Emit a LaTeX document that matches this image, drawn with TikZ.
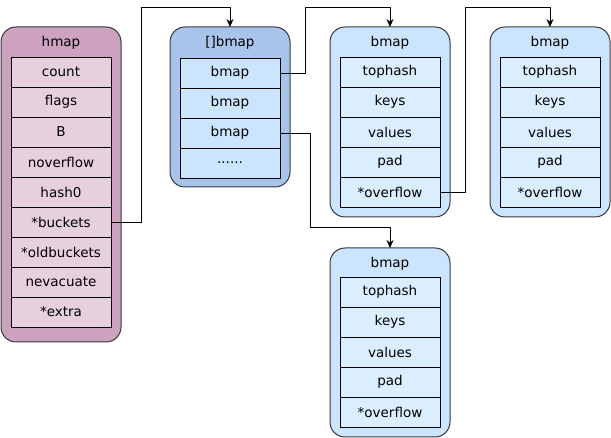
\documentclass[tikz,border=0pt]{standalone}
\usepackage{fontspec}
\newfontfamily\mapfont{DejaVu Sans}
\usetikzlibrary{positioning,arrows.meta}

\definecolor{hmapout}{HTML}{CDA2BE}
\definecolor{hmapin}{HTML}{E6D0DE}
\definecolor{arrout}{HTML}{A9C4EB}
\definecolor{bmapout}{HTML}{CCE5FF}
\definecolor{bmapin}{HTML}{DAEEFF}
\definecolor{edgegray}{HTML}{36393D}

\begin{document}
\begin{tikzpicture}[x=1pt,y=-1pt,
    mapbox/.style={draw=edgegray,line width=1pt,rounded corners=15pt,minimum width=120pt,inner sep=0pt,outer sep=0pt,anchor=north west},
    title/.style={font=\mapfont\fontsize{13.5}{16}\selectfont,inner sep=0pt},
    field/.style={draw=black,line width=0.8pt,minimum width=100pt,minimum height=30pt,inner sep=0pt,outer sep=0pt,font=\mapfont\fontsize{13.5}{16}\selectfont},
    link/.style={draw=black,line width=0.8pt,-{Stealth[length=8pt,width=7pt]}}]
    \useasboundingbox (0,0) rectangle (611,438);

    % hmap
    \node[mapbox,fill=hmapout,minimum height=315pt] (hmap) at (1,27) {};
    \node[title] at ([yshift=-16pt]hmap.north) {hmap};
    \node[field,fill=hmapin,below=30pt of hmap.north] (hcount) {count};
    \node[field,fill=hmapin,below=0pt of hcount] (hflags) {flags};
    \node[field,fill=hmapin,below=0pt of hflags] (hb) {B};
    \node[field,fill=hmapin,below=0pt of hb] (hnover) {noverflow};
    \node[field,fill=hmapin,below=0pt of hnover] (hhash) {hash0};
    \node[field,fill=hmapin,below=0pt of hhash] (hbuckets) {*buckets};
    \node[field,fill=hmapin,below=0pt of hbuckets] (holdb) {*oldbuckets};
    \node[field,fill=hmapin,below=0pt of holdb] (hnevac) {nevacuate};
    \node[field,fill=hmapin,below=0pt of hnevac] (hextra) {*extra};

    % []bmap
    \node[mapbox,fill=arrout,minimum height=160pt] (arr) at (170,27) {};
    \node[title] at ([yshift=-16pt]arr.north) {[]bmap};
    \node[field,fill=bmapout,below=31pt of arr.north] (bm1) {bmap};
    \node[field,fill=bmapout,below=0pt of bm1] (bm2) {bmap};
    \node[field,fill=bmapout,below=0pt of bm2] (bm3) {bmap};
    \node[field,fill=bmapout,below=0pt of bm3] (bm4) {......};

    % bmap 1
    \node[mapbox,fill=bmapout,minimum height=190pt] (bk1) at (330,27) {};
    \node[title] at ([yshift=-16pt]bk1.north) {bmap};
    \node[field,fill=bmapin,below=30pt of bk1.north] (b1top) {tophash};
    \node[field,fill=bmapin,below=0pt of b1top] (b1keys) {keys};
    \node[field,fill=bmapin,below=0pt of b1keys] (b1vals) {values};
    \node[field,fill=bmapin,below=0pt of b1vals] (b1pad) {pad};
    \node[field,fill=bmapin,below=0pt of b1pad] (b1ov) {*overflow};

    % bmap 2
    \node[mapbox,fill=bmapout,minimum height=190pt] (bk2) at (490,27) {};
    \node[title] at ([yshift=-16pt]bk2.north) {bmap};
    \node[field,fill=bmapin,below=30pt of bk2.north] (b2top) {tophash};
    \node[field,fill=bmapin,below=0pt of b2top] (b2keys) {keys};
    \node[field,fill=bmapin,below=0pt of b2keys] (b2vals) {values};
    \node[field,fill=bmapin,below=0pt of b2vals] (b2pad) {pad};
    \node[field,fill=bmapin,below=0pt of b2pad] (b2ov) {*overflow};

    % bmap 3
    \node[mapbox,fill=bmapout,minimum height=189pt] (bk3) at (330,248) {};
    \node[title] at ([yshift=-16pt]bk3.north) {bmap};
    \node[field,fill=bmapin,below=29pt of bk3.north] (b3top) {tophash};
    \node[field,fill=bmapin,below=0pt of b3top] (b3keys) {keys};
    \node[field,fill=bmapin,below=0pt of b3keys] (b3vals) {values};
    \node[field,fill=bmapin,below=0pt of b3vals] (b3pad) {pad};
    \node[field,fill=bmapin,below=0pt of b3pad] (b3ov) {*overflow};

    \path[link] (hbuckets.east) -- ++(30,0) |- ([yshift=20pt]arr.north) -- (arr.north);
    \path[link] (bm1.east) -- ++(25,0) |- ([yshift=20pt]bk1.north) -- (bk1.north);
    \path[link] (bm3.east) -- ++(30,0) |- ([yshift=21pt]bk3.north) -- (bk3.north);
    \path[link] (b1ov.east) -- ++(25,0) |- ([yshift=20pt]bk2.north) -- (bk2.north);
\end{tikzpicture}
\end{document}
